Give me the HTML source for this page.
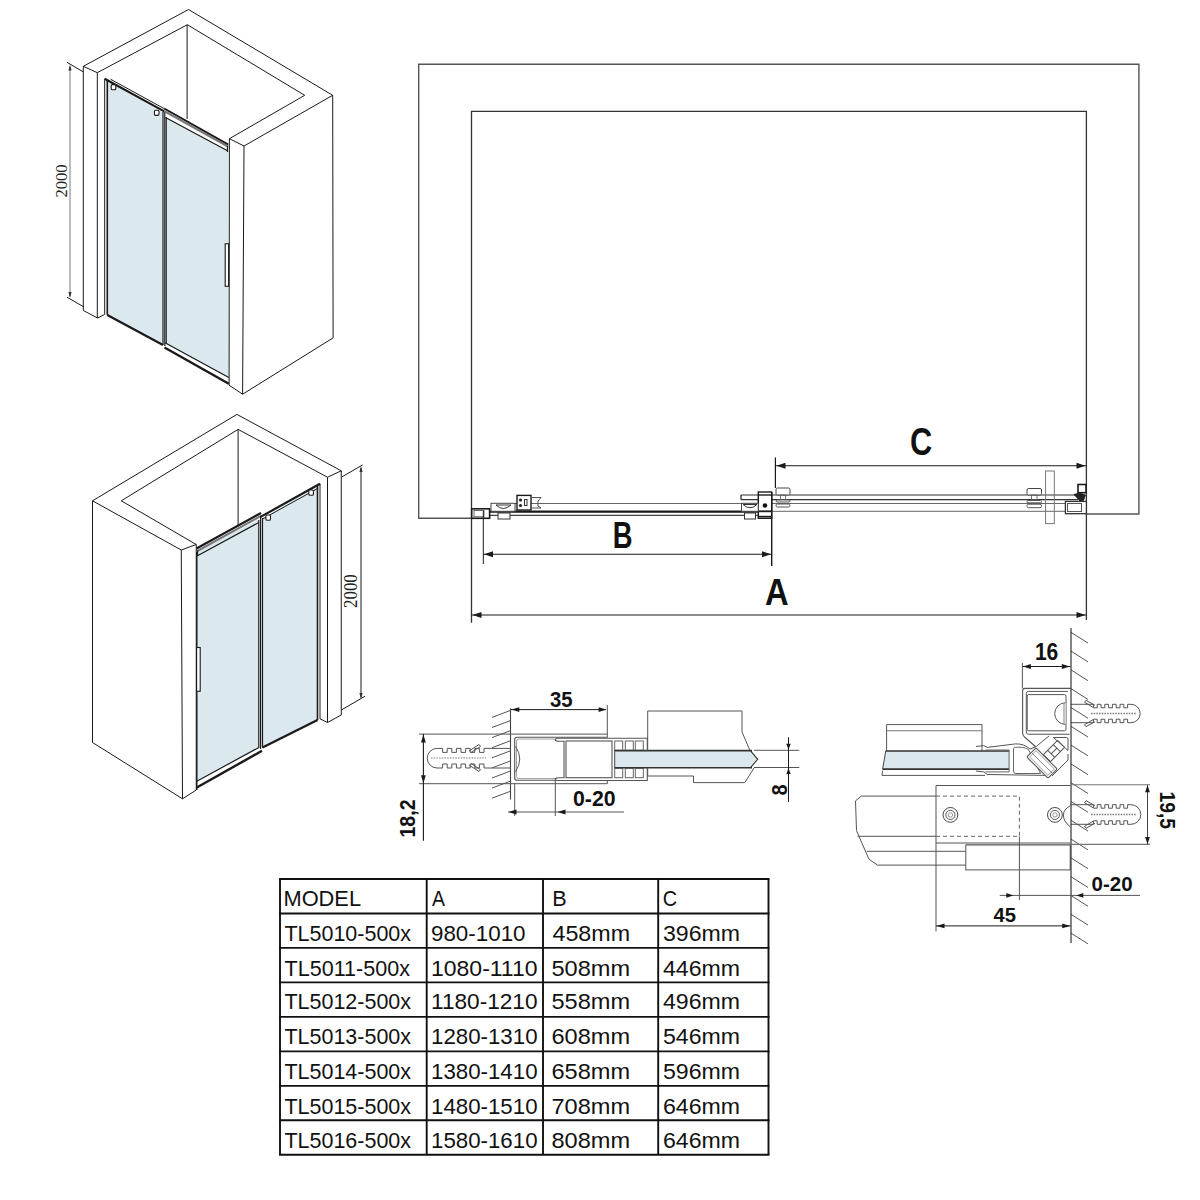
<!DOCTYPE html><html><head><meta charset="utf-8"><style>html,body{margin:0;padding:0;background:#fff;width:1200px;height:1200px;overflow:hidden}svg{display:block}</style></head><body>
<svg width="1200" height="1200" viewBox="0 0 1200 1200">
<rect width="1200" height="1200" fill="#fff"/>
<g stroke-linejoin="miter" stroke-linecap="butt">
<path d="M107.4 81 L163 112.6 L163 345 L107.4 315 Z" stroke="none" stroke-width="0" fill="#dbe8ed" />
<path d="M166 117.5 L228.3 150.8 L228.8 378 L166 344 Z" stroke="none" stroke-width="0" fill="#dbe8ed" />
<path d="M83.3 66.3 L188.5 9.5 L332.7 95.3 L244 146 L229.4 138.7 L304.7 95.3 L187.3 24.7 L97.3 72.7 Z" stroke="#1a1a1a" stroke-width="1.0" fill="none" />
<line x1="83.3" y1="66.3" x2="83.3" y2="310.5" stroke="#1a1a1a" stroke-width="1.0" />
<line x1="97.3" y1="72.7" x2="97.3" y2="318" stroke="#1a1a1a" stroke-width="1.0" />
<path d="M83.3 310.5 L97.5 318 L104.5 314.5" stroke="#1a1a1a" stroke-width="1.0" fill="none" />
<line x1="187.1" y1="24.7" x2="187.1" y2="119" stroke="#1a1a1a" stroke-width="1.0" />
<line x1="229.4" y1="138.7" x2="229.1" y2="385" stroke="#1a1a1a" stroke-width="1.0" />
<line x1="244" y1="146" x2="242.6" y2="394.2" stroke="#1a1a1a" stroke-width="1.0" />
<line x1="332.7" y1="95.3" x2="333.1" y2="337.9" stroke="#1a1a1a" stroke-width="1.0" />
<path d="M228.8 385 L242.6 394.2 L333.1 337.9" stroke="#1a1a1a" stroke-width="1.0" fill="none" />
<line x1="104.7" y1="78.7" x2="104.7" y2="314.5" stroke="#1a1a1a" stroke-width="1.0" />
<line x1="107.3" y1="80" x2="107.3" y2="315" stroke="#1a1a1a" stroke-width="1.6" />
<path d="M104.7 78.7 L164.2 111.4" stroke="#1a1a1a" stroke-width="2.2" fill="none" />
<path d="M110.7 79.3 L164.5 108.8" stroke="#1a1a1a" stroke-width="1" fill="none" />
<line x1="163" y1="112" x2="163" y2="345" stroke="#1a1a1a" stroke-width="1.2" />
<line x1="164.8" y1="111.5" x2="164.8" y2="346" stroke="#1a1a1a" stroke-width="1.2" />
<path d="M164.2 108.5 L228.3 144.7" stroke="#1a1a1a" stroke-width="2.0" fill="none" />
<path d="M164.6 110 L228.3 145.6 L228.3 148 L165 112.7 Z" stroke="none" stroke-width="0" fill="#777" />
<path d="M165.5 117.5 L227.5 150.8" stroke="#1a1a1a" stroke-width="1.2" fill="none" />
<line x1="166.2" y1="117" x2="166.2" y2="344" stroke="#1a1a1a" stroke-width="1.2" />
<line x1="227.5" y1="146" x2="227.5" y2="152" stroke="#1a1a1a" stroke-width="1.2" />
<path d="M107.3 315 L163 345" stroke="#1a1a1a" stroke-width="2.2" fill="none" />
<path d="M165.5 343 L228.8 377.5" stroke="#1a1a1a" stroke-width="1.2" fill="none" />
<path d="M164.5 347.5 L228.8 383.8" stroke="#1a1a1a" stroke-width="2.4" fill="none" />
<rect x="225.2" y="243.8" width="3.4" height="42.5" stroke="#1a1a1a" stroke-width="1.1" fill="#fff" />
<rect x="111.2" y="84.6" width="4.6" height="5.2" stroke="#1a1a1a" stroke-width="1.1" fill="#fff" rx="1.3"/>
<rect x="154.4" y="110.2" width="4.6" height="5.2" stroke="#1a1a1a" stroke-width="1.1" fill="#fff" rx="1.3"/>
<line x1="70" y1="66.7" x2="70" y2="296.5" stroke="#888" stroke-width="1.1" />
<path d="M70.00 64.50 L71.60 70.50 L68.40 70.50 Z" fill="#333"/>
<path d="M70.00 298.00 L68.40 292.00 L71.60 292.00 Z" fill="#333"/>
<line x1="67" y1="62.3" x2="83" y2="71.7" stroke="#1a1a1a" stroke-width="1" />
<line x1="67" y1="297.2" x2="84" y2="307" stroke="#1a1a1a" stroke-width="1" />
<text transform="translate(61.50 181.00) rotate(-90)" x="0" y="5.80" font-family="Liberation Serif" font-size="16.86" font-weight="normal" text-anchor="middle" fill="#222" textLength="33.06" lengthAdjust="spacingAndGlyphs">2000</text>
</g>
<g>
<path d="M196.8 552 L258.8 519 L258.8 747.5 L196.8 781.2 Z" stroke="none" stroke-width="0" fill="#dbe8ed" />
<path d="M262.5 518 L317.5 486 L317.5 720 L262.5 747.5 Z" stroke="none" stroke-width="0" fill="#dbe8ed" />
<path d="M92.5 500.8 L236.9 414.4 L341.25 470.8 L327.5 477.2 L238.1 429.4 L121.25 500.8 L196.25 544.5 L181.25 550 Z" stroke="#1a1a1a" stroke-width="1.0" fill="none" />
<line x1="238.1" y1="429.4" x2="238.1" y2="525" stroke="#1a1a1a" stroke-width="1.0" />
<line x1="92.5" y1="500.8" x2="92.5" y2="742.5" stroke="#1a1a1a" stroke-width="1.0" />
<line x1="181.25" y1="550" x2="182.5" y2="798.8" stroke="#1a1a1a" stroke-width="1.0" />
<line x1="196.25" y1="544.5" x2="196.25" y2="790" stroke="#1a1a1a" stroke-width="1.0" />
<path d="M92.5 742.5 L182.5 798.8 L196.25 790" stroke="#1a1a1a" stroke-width="1.0" fill="none" />
<line x1="327.5" y1="477.2" x2="327.5" y2="722.5" stroke="#1a1a1a" stroke-width="1.0" />
<line x1="341.25" y1="470.8" x2="341.25" y2="715" stroke="#1a1a1a" stroke-width="1.0" />
<path d="M320 718.8 L327.5 722.5 L341.25 715" stroke="#1a1a1a" stroke-width="1.0" fill="none" />
<line x1="320" y1="483.75" x2="320" y2="718.8" stroke="#1a1a1a" stroke-width="1.0" />
<path d="M196.5 548.5 L261 513" stroke="#1a1a1a" stroke-width="2.2" fill="none" />
<path d="M196.5 550.2 L260.8 514.8 L260.5 517.3 L196.5 552.7 Z" stroke="none" stroke-width="0" fill="#777" />
<path d="M197 556 L258.8 522.5" stroke="#1a1a1a" stroke-width="1.2" fill="none" />
<line x1="197.5" y1="550" x2="197.5" y2="556" stroke="#1a1a1a" stroke-width="1.2" />
<line x1="196.8" y1="552" x2="196.8" y2="790" stroke="#1a1a1a" stroke-width="1.4" />
<line x1="258.8" y1="520" x2="258.8" y2="748" stroke="#1a1a1a" stroke-width="1.2" />
<line x1="260.6" y1="516" x2="260.6" y2="749" stroke="#1a1a1a" stroke-width="1.2" />
<path d="M260.6 516.9 L320 483.75" stroke="#1a1a1a" stroke-width="2.2" fill="none" />
<path d="M262.5 519 L317.5 488.5" stroke="#1a1a1a" stroke-width="1.0" fill="none" />
<line x1="262.5" y1="518" x2="262.5" y2="747.5" stroke="#1a1a1a" stroke-width="1.2" />
<line x1="317.5" y1="486" x2="317.5" y2="720" stroke="#1a1a1a" stroke-width="1.6" />
<path d="M196.8 781.2 L258.8 747.5" stroke="#1a1a1a" stroke-width="1.2" fill="none" />
<path d="M196.8 787.5 L262 750.8" stroke="#1a1a1a" stroke-width="2.4" fill="none" />
<path d="M262.5 747.5 L317.5 720" stroke="#1a1a1a" stroke-width="2.2" fill="none" />
<rect x="196.6" y="647.5" width="3.6" height="43.8" stroke="#1a1a1a" stroke-width="1.1" fill="#fff" />
<rect x="265.9" y="515.0" width="4.6" height="5.2" stroke="#1a1a1a" stroke-width="1.1" fill="#fff" rx="1.3"/>
<rect x="308.8" y="490.0" width="4.6" height="5.2" stroke="#1a1a1a" stroke-width="1.1" fill="#fff" rx="1.3"/>
<line x1="361" y1="468" x2="361" y2="697.5" stroke="#1a1a1a" stroke-width="1.0" />
<path d="M361.00 466.00 L362.60 472.00 L359.40 472.00 Z" fill="#333"/>
<path d="M361.00 699.00 L359.40 693.00 L362.60 693.00 Z" fill="#333"/>
<line x1="341.9" y1="476.9" x2="362.5" y2="465" stroke="#1a1a1a" stroke-width="1" />
<line x1="341.25" y1="710" x2="365" y2="696.25" stroke="#1a1a1a" stroke-width="1" />
<text transform="translate(351.38 591.12) rotate(-90)" x="0" y="5.88" font-family="Liberation Serif" font-size="17.98" font-weight="normal" text-anchor="middle" fill="#222" textLength="33.88" lengthAdjust="spacingAndGlyphs">2000</text>
</g>
<g>
<path d="M471.5 518.3 L418.7 518.3 L418.7 64.2 L1138.9 64.2 L1138.9 514 L1086.4 514" stroke="#555" stroke-width="1.4" fill="none" />
<path d="M471.5 622.7 L471.5 111.3 L1086.4 111.3 L1086.4 620" stroke="#333" stroke-width="1.3" fill="none" />
<line x1="489.6" y1="511.7" x2="771.7" y2="511.7" stroke="#1a1a1a" stroke-width="2.2" />
<line x1="489.6" y1="515.4" x2="771.7" y2="515.4" stroke="#444" stroke-width="1.2" />
<line x1="515" y1="503.5" x2="1065" y2="503.5" stroke="#666" stroke-width="1.0" />
<line x1="771.7" y1="511.3" x2="1065" y2="511.3" stroke="#666" stroke-width="1.0" />
<line x1="741" y1="495" x2="1078" y2="495" stroke="#333" stroke-width="1.1" />
<line x1="741" y1="499.6" x2="1078" y2="499.6" stroke="#333" stroke-width="1.1" />
<path d="M741 495 L741 499.6" stroke="#1a1a1a" stroke-width="1.2" fill="none" />
<rect x="471.7" y="508.8" width="17.9" height="9.5" stroke="#1a1a1a" stroke-width="1.6" fill="#fff" />
<rect x="474" y="510.5" width="10" height="6.3" stroke="#444" stroke-width="0.8" fill="none" />
<rect x="491" y="503.3" width="24" height="8" stroke="#444" stroke-width="1" fill="#fff" />
<path d="M496 505 Q503 512 511 505 Z" stroke="#333" stroke-width="1" fill="#fff" />
<rect x="498" y="513" width="12" height="6" stroke="#333" stroke-width="1" fill="#fff" />
<rect x="517" y="495.4" width="14" height="14.6" stroke="#1a1a1a" stroke-width="1.4" fill="#fff" />
<circle cx="520.5" cy="500" r="1.6" fill="#222"/><circle cx="520.5" cy="505.5" r="1.6" fill="#222"/>
<rect x="524.5" y="499.5" width="2.5" height="6" stroke="#333" stroke-width="1" fill="none" />
<path d="M531 497.5 L541 497.5 L538 501 L538 506 L541 508 L531 508" stroke="#555" stroke-width="1" fill="none" />
<rect x="758.3" y="492" width="13.4" height="26.3" stroke="#1a1a1a" stroke-width="1.4" fill="#fff" />
<line x1="758.3" y1="495" x2="771.7" y2="495" stroke="#1a1a1a" stroke-width="1.4" />
<line x1="758.3" y1="511.3" x2="771.7" y2="511.3" stroke="#1a1a1a" stroke-width="1.8" />
<line x1="758.3" y1="516.6" x2="771.7" y2="516.6" stroke="#1a1a1a" stroke-width="1.6" />
<circle cx="765" cy="505.5" r="2.3" fill="#111"/>
<rect x="741.5" y="503.3" width="16.8" height="8" stroke="#444" stroke-width="1" fill="#fff" />
<path d="M743 504.5 Q750 511 757 504.5 Z" stroke="#333" stroke-width="1" fill="#fff" />
<rect x="744.5" y="513" width="11" height="6" stroke="#333" stroke-width="1" fill="#fff" />
<rect x="776" y="488" width="14" height="7" stroke="#444" stroke-width="1.0" fill="#fff" rx="1.5"/>
<rect x="780.5" y="495" width="5" height="5" stroke="#666" stroke-width="0.9" fill="none" />
<rect x="776" y="500" width="14" height="2" stroke="#555" stroke-width="1" fill="#fff" rx="1"/>
<rect x="776" y="504" width="14" height="3" stroke="#555" stroke-width="1" fill="#fff" rx="1.5"/>
<line x1="775.4" y1="457.5" x2="775.4" y2="488" stroke="#1a1a1a" stroke-width="1.2" />
<rect x="1027" y="488.5" width="14.5" height="6.5" stroke="#444" stroke-width="1.0" fill="#fff" rx="1.5"/>
<rect x="1031.5" y="495" width="5.5" height="5" stroke="#666" stroke-width="0.9" fill="none" />
<rect x="1027" y="500.5" width="14.5" height="2.3" stroke="#555" stroke-width="1" fill="#fff" rx="1"/>
<rect x="1027" y="504.2" width="14.5" height="3.5" stroke="#555" stroke-width="1" fill="#fff" rx="1.5"/>
<rect x="1045.6" y="471" width="8.7" height="52.6" stroke="#777" stroke-width="1.0" fill="none" />
<rect x="1065.4" y="501.4" width="21" height="12.3" stroke="#333" stroke-width="1.3" fill="#fff" />
<rect x="1067.5" y="503.5" width="14" height="8" stroke="#555" stroke-width="1" fill="none" />
<rect x="1078" y="484.5" width="8" height="8.2" stroke="#1a1a1a" stroke-width="1.6" fill="#fff" />
<path d="M1074 494.5 L1079 493 L1085.5 495 L1083.5 500.5 L1080 501 Z" stroke="#1a1a1a" stroke-width="0.8" fill="#222" />
<line x1="483.3" y1="511" x2="483.3" y2="564" stroke="#1a1a1a" stroke-width="1" />
<line x1="771.7" y1="492" x2="771.7" y2="566" stroke="#1a1a1a" stroke-width="1.4" />
<line x1="483.3" y1="554.3" x2="771.7" y2="554.3" stroke="#1a1a1a" stroke-width="1.1" />
<path d="M484.00 554.30 L493.00 551.30 L493.00 557.30 Z" fill="#1a1a1a"/>
<path d="M771.00 554.30 L762.00 557.30 L762.00 551.30 Z" fill="#1a1a1a"/>
<line x1="471.5" y1="615" x2="1086.4" y2="615" stroke="#1a1a1a" stroke-width="1.1" />
<path d="M472.50 615.00 L481.50 612.00 L481.50 618.00 Z" fill="#1a1a1a"/>
<path d="M1085.50 615.00 L1076.50 618.00 L1076.50 612.00 Z" fill="#1a1a1a"/>
<line x1="775.4" y1="465.8" x2="1086.4" y2="465.8" stroke="#1a1a1a" stroke-width="1.1" />
<path d="M776.50 465.80 L785.50 462.80 L785.50 468.80 Z" fill="#1a1a1a"/>
<path d="M1085.50 465.80 L1076.50 468.80 L1076.50 462.80 Z" fill="#1a1a1a"/>
<text transform="translate(622.63 535.50)" x="0" y="12.90" font-family="Liberation Sans" font-size="36.24" font-weight="bold" text-anchor="middle" fill="#111" textLength="19.78" lengthAdjust="spacingAndGlyphs">B</text>
<text transform="translate(776.75 591.75)" x="0" y="13.05" font-family="Liberation Sans" font-size="36.81" font-weight="bold" text-anchor="middle" fill="#111" textLength="23.65" lengthAdjust="spacingAndGlyphs">A</text>
<text transform="translate(921.00 441.25)" x="0" y="13.35" font-family="Liberation Sans" font-size="38.24" font-weight="bold" text-anchor="middle" fill="#111" textLength="22.22" lengthAdjust="spacingAndGlyphs">C</text>
</g>
<g>
<line x1="492" y1="717.4" x2="510.3" y2="710.5" stroke="#555" stroke-width="1" />
<line x1="492" y1="727.5" x2="510.3" y2="720.6" stroke="#555" stroke-width="1" />
<line x1="492" y1="737.6" x2="510.3" y2="730.7" stroke="#555" stroke-width="1" />
<line x1="492" y1="747.7" x2="510.3" y2="740.8" stroke="#555" stroke-width="1" />
<line x1="492" y1="757.8" x2="510.3" y2="750.9" stroke="#555" stroke-width="1" />
<line x1="492" y1="767.9" x2="510.3" y2="761.0" stroke="#555" stroke-width="1" />
<line x1="492" y1="778.0" x2="510.3" y2="771.1" stroke="#555" stroke-width="1" />
<line x1="492" y1="788.1" x2="510.3" y2="781.2" stroke="#555" stroke-width="1" />
<line x1="492" y1="798.2" x2="510.3" y2="791.3" stroke="#555" stroke-width="1" />
<line x1="510.5" y1="708.3" x2="510.5" y2="799.5" stroke="#444" stroke-width="1.1" />
<line x1="419" y1="734.1" x2="607.3" y2="734.1" stroke="#555" stroke-width="1" />
<line x1="419" y1="783.7" x2="607.3" y2="783.7" stroke="#555" stroke-width="1" />
<line x1="607.3" y1="705" x2="607.3" y2="783.7" stroke="#555" stroke-width="1" />
<line x1="511" y1="709.6" x2="606" y2="709.6" stroke="#1a1a1a" stroke-width="1" />
<path d="M511.30 709.60 L519.30 707.20 L519.30 712.00 Z" fill="#1a1a1a"/>
<path d="M606.60 709.60 L598.60 712.00 L598.60 707.20 Z" fill="#1a1a1a"/>
<text transform="translate(561.25 698.50)" x="0" y="8.00" font-family="Liberation Sans" font-size="22.40" font-weight="bold" text-anchor="middle" fill="#111" textLength="22.59" lengthAdjust="spacingAndGlyphs">35</text>
<line x1="423.4" y1="734.1" x2="423.4" y2="840.7" stroke="#1a1a1a" stroke-width="1.1" />
<path d="M423.40 734.60 L425.80 742.60 L421.00 742.60 Z" fill="#1a1a1a"/>
<path d="M423.40 783.30 L421.00 775.30 L425.80 775.30 Z" fill="#1a1a1a"/>
<text transform="translate(405.50 818.50) rotate(-90)" x="0" y="9.20" font-family="Liberation Sans" font-size="21.70" font-weight="bold" text-anchor="middle" fill="#111" textLength="38.07" lengthAdjust="spacingAndGlyphs">18,2</text>
<path d="M510.4 748.4 L484 748.4 L484.0 748.4 L484.0 752.4 L479.4 752.4 L479.4 748.4 L474.8 748.4 L474.8 752.4 L470.2 752.4 L470.2 748.4 L465.6 748.4 L465.6 752.4 L461.0 752.4 L461.0 748.4 L456.4 748.4 L456.4 752.4 L451.8 752.4 L451.8 748.4 L447.2 748.4 L447.2 752.4 L442.6 752.4 L442.6 748.4 L437 748.4 A9.8 9.8 0 0 0 437 768  L442.6 768 L442.6 764 L447.2 764 L447.2 768 L451.8 768 L451.8 764 L456.4 764 L456.4 768 L461.0 768 L461.0 764 L465.6 764 L465.6 768 L470.2 768 L470.2 764 L474.8 764 L474.8 768 L479.4 768 L479.4 764 L484.0 764 L484.0 768 L510.4 768" stroke="#555" stroke-width="1" fill="none" />
<line x1="431" y1="758" x2="486" y2="758" stroke="#777" stroke-width="1.2" stroke-dasharray="1.5 1.2"/>
<path d="M469 751 L479 744.5 L480.5 746.5 L471 752.5 M469 765 L479 771.5 L480.5 769.5 L471 763.5" stroke="#555" stroke-width="1" fill="none" />
<path d="M607.3 737.3 L517 737.3 Q514.7 737.3 514.7 739.6 L514.7 778 Q514.7 780.3 517 780.3 L607.3 780.3" stroke="#555" stroke-width="1.1" fill="#fff" />
<path d="M607 739 L518.5 739 Q516.5 739 516.5 741 L516.5 776.5 Q516.5 778.6 518.5 778.6 L607 778.6" stroke="#888" stroke-width="0.8" fill="none" />
<path d="M515.5 746.3 Q524 759 515.5 771.7" stroke="#555" stroke-width="1" fill="none" />
<path d="M647.3 738.3 L558 738.3 Q555.3 738.3 555.3 740.3 L557.5 741.3 L564 741.3 L564 777.7 L557.5 777.7 L555.3 778.7 Q555.3 780.5 558 780.5 L647.3 780.5 Z" stroke="#555" stroke-width="1.1" fill="#fff" />
<rect x="566" y="741" width="46" height="36.7" stroke="#555" stroke-width="1.1" fill="#fff" />
<rect x="614.7" y="741" width="8" height="9.3" stroke="#666" stroke-width="1" fill="#fff" />
<rect x="614.7" y="768.3" width="8" height="9.4" stroke="#666" stroke-width="1" fill="#fff" />
<rect x="625.3" y="741" width="8" height="9.3" stroke="#666" stroke-width="1" fill="#fff" />
<rect x="625.3" y="768.3" width="8" height="9.4" stroke="#666" stroke-width="1" fill="#fff" />
<rect x="635.3" y="741" width="8" height="9.3" stroke="#666" stroke-width="1" fill="#fff" />
<rect x="635.3" y="768.3" width="8" height="9.4" stroke="#666" stroke-width="1" fill="#fff" />
<path d="M614.7 750.5 L750.3 750.5 L757.7 759.3 L750.3 768 L614.7 768 Z" stroke="none" stroke-width="0" fill="#dbe8ed" />
<line x1="614.7" y1="750.6" x2="752" y2="750.6" stroke="#333" stroke-width="1.6" />
<line x1="614.7" y1="767.8" x2="752" y2="767.8" stroke="#333" stroke-width="1.6" />
<line x1="614.7" y1="750.5" x2="614.7" y2="768" stroke="#444" stroke-width="1" />
<path d="M750.3 750.6 L757.7 759.3 L750.3 767.8" stroke="#333" stroke-width="1.1" fill="none" />
<path d="M647.7 750.5 L647.7 711 L742 711 L742 732 L750 750.5" stroke="#555" stroke-width="1" fill="none" />
<path d="M647.7 768 L647.7 776 L693.5 776 L693.5 782.6 L744.8 782.6 L754 768" stroke="#555" stroke-width="1" fill="none" />
<line x1="754" y1="750.3" x2="799.3" y2="750.3" stroke="#555" stroke-width="1" />
<line x1="754" y1="767.5" x2="799.3" y2="767.5" stroke="#555" stroke-width="1" />
<line x1="788.5" y1="737.3" x2="788.5" y2="802" stroke="#1a1a1a" stroke-width="1" />
<path d="M788.50 749.80 L786.30 743.80 L790.70 743.80 Z" fill="#1a1a1a"/>
<path d="M788.50 768.00 L790.70 774.00 L786.30 774.00 Z" fill="#1a1a1a"/>
<text transform="translate(779.00 790.00) rotate(-90)" x="0" y="8.00" font-family="Liberation Sans" font-size="22.40" font-weight="bold" text-anchor="middle" fill="#111" textLength="11.11" lengthAdjust="spacingAndGlyphs">8</text>
<line x1="514.7" y1="783.7" x2="514.7" y2="816" stroke="#555" stroke-width="1" />
<line x1="555.3" y1="780.5" x2="555.3" y2="816" stroke="#555" stroke-width="1" />
<line x1="508" y1="812" x2="624" y2="812" stroke="#555" stroke-width="1" />
<path d="M508.50 812.00 L516.50 809.60 L516.50 814.40 Z" fill="#1a1a1a"/>
<path d="M557.50 812.00 L565.50 809.60 L565.50 814.40 Z" fill="#1a1a1a"/>
<text transform="translate(594.25 798.00)" x="0" y="8.00" font-family="Liberation Sans" font-size="22.40" font-weight="bold" text-anchor="middle" fill="#111" textLength="42.55" lengthAdjust="spacingAndGlyphs">0-20</text>
</g>
<g>
<line x1="1071" y1="632.3" x2="1088" y2="643.1" stroke="#555" stroke-width="1" />
<line x1="1071" y1="651.1" x2="1088" y2="661.9" stroke="#555" stroke-width="1" />
<line x1="1071" y1="669.9" x2="1088" y2="680.7" stroke="#555" stroke-width="1" />
<line x1="1071" y1="688.7" x2="1088" y2="699.5" stroke="#555" stroke-width="1" />
<line x1="1071" y1="707.5" x2="1088" y2="718.3" stroke="#555" stroke-width="1" />
<line x1="1071" y1="726.3" x2="1088" y2="737.1" stroke="#555" stroke-width="1" />
<line x1="1071" y1="745.1" x2="1088" y2="755.9" stroke="#555" stroke-width="1" />
<line x1="1071" y1="763.9" x2="1088" y2="774.7" stroke="#555" stroke-width="1" />
<line x1="1071" y1="782.7" x2="1088" y2="793.5" stroke="#555" stroke-width="1" />
<line x1="1071" y1="801.5" x2="1088" y2="812.3" stroke="#555" stroke-width="1" />
<line x1="1071" y1="820.3" x2="1088" y2="831.1" stroke="#555" stroke-width="1" />
<line x1="1071" y1="839.1" x2="1088" y2="849.9" stroke="#555" stroke-width="1" />
<line x1="1071" y1="857.9" x2="1088" y2="868.7" stroke="#555" stroke-width="1" />
<line x1="1071" y1="876.7" x2="1088" y2="887.5" stroke="#555" stroke-width="1" />
<line x1="1071" y1="895.5" x2="1088" y2="906.3" stroke="#555" stroke-width="1" />
<line x1="1071" y1="914.3" x2="1088" y2="925.1" stroke="#555" stroke-width="1" />
<line x1="1071" y1="933.1" x2="1088" y2="943.9" stroke="#555" stroke-width="1" />
<line x1="1022.4" y1="666.5" x2="1070.3" y2="666.5" stroke="#1a1a1a" stroke-width="1" />
<path d="M1022.90 666.50 L1030.90 664.10 L1030.90 668.90 Z" fill="#1a1a1a"/>
<path d="M1069.80 666.50 L1061.80 668.90 L1061.80 664.10 Z" fill="#1a1a1a"/>
<line x1="1022.4" y1="663" x2="1022.4" y2="688.4" stroke="#555" stroke-width="1" />
<text transform="translate(1046.62 651.62)" x="0" y="7.88" font-family="Liberation Sans" font-size="23.46" font-weight="bold" text-anchor="middle" fill="#111" textLength="23.39" lengthAdjust="spacingAndGlyphs">16</text>
<path d="M1070.7 688.4 L1025 688.4 Q1022.6 688.4 1022.6 690.8 L1022.6 733 Q1022.6 735.5 1024.5 737 L1036 747" stroke="#555" stroke-width="1.1" fill="none" />
<path d="M1068 691.4 L1028.5 691.4 Q1026.3 691.4 1026.3 693.6 L1026.3 732 Q1026.3 734.25 1028.5 734.25 L1069.5 734.25" stroke="#555" stroke-width="1" fill="none" />
<rect x="1027.2" y="694.6" width="38.8" height="36.2" stroke="#555" stroke-width="1" fill="none" rx="1.5"/>
<path d="M1065.5 702.8 A10.8 10.8 0 0 0 1065.5 724.4" stroke="#555" stroke-width="1" fill="#fff" />
<line x1="1064" y1="703" x2="1064" y2="724" stroke="#999" stroke-width="1.2" />
<path d="M1070.7 704.3 L1093.4 704.3 L1093.4 704.3 L1093.4 707.8 L1097.2 707.8 L1097.2 704.3 L1101.0 704.3 L1101.0 707.8 L1104.8 707.8 L1104.8 704.3 L1108.6 704.3 L1108.6 707.8 L1112.4 707.8 L1112.4 704.3 L1116.2 704.3 L1116.2 707.8 L1120.0 707.8 L1120.0 704.3 L1123.8 704.3 L1123.8 707.8 L1127.6 707.8 L1127.6 704.3 L1131 704.3 A9.2 9.2 0 0 1 1131 722.7 L1127.6 722.7 L1127.6 719.2 L1123.8 719.2 L1123.8 722.7 L1120.0 722.7 L1120.0 719.2 L1116.2 719.2 L1116.2 722.7 L1112.4 722.7 L1112.4 719.2 L1108.6 719.2 L1108.6 722.7 L1104.8 722.7 L1104.8 719.2 L1101.0 719.2 L1101.0 722.7 L1097.2 722.7 L1097.2 719.2 L1093.4 719.2 L1093.4 722.7 L1070.7 722.7" stroke="#555" stroke-width="1" fill="none" />
<line x1="1091" y1="713.5" x2="1137" y2="713.5" stroke="#777" stroke-width="1.3" stroke-dasharray="1.5 1.2"/>
<path d="M1095 705.3 L1086 700.3 L1084.5 702.3 L1093 707.3 M1095 721.7 L1086 726.7 L1084.5 724.7 L1093 719.7" stroke="#555" stroke-width="1" fill="none" />
<path d="M886.6 750.9 L886.6 724.6 L982 724.6 L982 750.9" stroke="#555" stroke-width="1" fill="#fff" />
<line x1="886.6" y1="730.75" x2="982" y2="730.75" stroke="#777" stroke-width="1.1" />
<path d="M885.75 750.9 L1009.1 750.9 L1009.1 769.25 L882.6 769.25 Z" stroke="none" stroke-width="0" fill="#dbe8ed" />
<line x1="885.75" y1="751" x2="1009.1" y2="751" stroke="#333" stroke-width="1.7" />
<line x1="882.6" y1="769.1" x2="1009.1" y2="769.1" stroke="#333" stroke-width="1.7" />
<line x1="885.75" y1="750.9" x2="882.6" y2="769.25" stroke="#444" stroke-width="1" />
<path d="M882.6 770.6 L882 775.4 L985 775.4" stroke="#555" stroke-width="1" fill="none" />
<path d="M975.9 746.5 L983.75 745.6 L987.25 747.4 L1015.25 743.9 Q1024 743.5 1030.1 749.1 L1036.25 746.5" stroke="#555" stroke-width="1" fill="none" />
<path d="M975.9 771 L983.75 771.9 L987.25 774.5 L1045 775.4 L1052 771" stroke="#555" stroke-width="1" fill="none" />
<path d="M985.5 750 L1009.1 750 L1009.1 771.9 L985.5 771.9" stroke="#666" stroke-width="1" fill="none" />
<path d="M1014.4 747.4 Q1024 746.5 1028.4 749.5 L1040.6 773.5 L1016 773.5 Q1013.5 773.5 1013.5 771 L1013.5 750 Q1013.5 747.4 1014.4 747.4 Z" stroke="#666" stroke-width="1" fill="none" />
<g transform="translate(1042 763) rotate(45)">
<rect x="-15" y="-6.5" width="30" height="13" stroke="#555" stroke-width="1.1" fill="#fff" rx="1.5"/>
<rect x="-13" y="-4.5" width="26" height="9" stroke="#888" stroke-width="0.8" fill="none" />
<line x1="-15" y1="0" x2="15" y2="0" stroke="#777" stroke-width="0.8" />
</g>
<g transform="translate(1054 751) rotate(-45)">
<path d="M-10 -5 L10 -5 M-10 5 L10 5 M-10 -5 L-10 5 M10 -5 L10 5 M-4 -5 L-4 5 M4 -5 L4 5 M-4 0 L4 0" stroke="#555" stroke-width="1" fill="none" />
</g>
<path d="M1053.5 737.5 L1066.5 737.5 Q1068 737.5 1068 739 L1068 750.5 Z" stroke="#555" stroke-width="1" fill="none" />
<path d="M1036.25 746.5 L1044 740 L1049 736 M1068 754 L1068 760 L1052 776" stroke="#555" stroke-width="1" fill="none" />
<path d="M936 843 L936 785.5 L1070.2 785.5" stroke="#555" stroke-width="1" fill="none" />
<line x1="936" y1="843" x2="1070.2" y2="843" stroke="#555" stroke-width="1" />
<line x1="966" y1="845" x2="1070.2" y2="845" stroke="#555" stroke-width="1" />
<path d="M936 796.1 L1019.4 796.1 L1019.4 836.3 L936 836.3" stroke="#666" stroke-width="1" fill="none" stroke-dasharray="4 3"/>
<path d="M936 796.1 L861.3 796.1 L855.5 800.9 L856.5 830.6 L869 859.3 L877.6 865.1 L965.8 865.1" stroke="#555" stroke-width="1" fill="none" />
<line x1="857.5" y1="836.3" x2="936" y2="836.3" stroke="#555" stroke-width="1" />
<line x1="867" y1="851.3" x2="965.8" y2="851.3" stroke="#555" stroke-width="1" />
<rect x="965.8" y="845" width="104.4" height="24.9" stroke="#555" stroke-width="1" fill="#fff" />
<line x1="936" y1="843" x2="936" y2="931.5" stroke="#555" stroke-width="1" />
<circle cx="950.4" cy="814.9" r="7.4" fill="#fff" stroke="#444" stroke-width="1"/>
<circle cx="950.4" cy="814.9" r="4.6" fill="none" stroke="#444" stroke-width="0.9"/>
<circle cx="950.4" cy="814.9" r="2.2" fill="none" stroke="#777" stroke-width="0.8"/>
<circle cx="1054.9" cy="814.9" r="7.4" fill="#fff" stroke="#444" stroke-width="1"/>
<circle cx="1054.9" cy="814.9" r="4.6" fill="none" stroke="#444" stroke-width="0.9"/>
<circle cx="1054.9" cy="814.9" r="2.2" fill="none" stroke="#777" stroke-width="0.8"/>
<path d="M1070.2 805.7 Q1063 810 1063.5 815 Q1063 821 1070.2 826.8" stroke="#555" stroke-width="1" fill="#fff" />
<path d="M1070.7 804.7 L1093.4 804.7 L1093.4 804.7 L1093.4 808.2 L1097.2 808.2 L1097.2 804.7 L1101.0 804.7 L1101.0 808.2 L1104.8 808.2 L1104.8 804.7 L1108.6 804.7 L1108.6 808.2 L1112.4 808.2 L1112.4 804.7 L1116.2 804.7 L1116.2 808.2 L1120.0 808.2 L1120.0 804.7 L1123.8 804.7 L1123.8 808.2 L1127.6 808.2 L1127.6 804.7 L1131 804.7 A9.8 9.8 0 0 1 1131 824.3 L1127.6 824.3 L1127.6 820.8 L1123.8 820.8 L1123.8 824.3 L1120.0 824.3 L1120.0 820.8 L1116.2 820.8 L1116.2 824.3 L1112.4 824.3 L1112.4 820.8 L1108.6 820.8 L1108.6 824.3 L1104.8 824.3 L1104.8 820.8 L1101.0 820.8 L1101.0 824.3 L1097.2 824.3 L1097.2 820.8 L1093.4 820.8 L1093.4 824.3 L1070.7 824.3" stroke="#555" stroke-width="1" fill="none" />
<line x1="1091" y1="814.5" x2="1137" y2="814.5" stroke="#777" stroke-width="1.3" stroke-dasharray="1.5 1.2"/>
<path d="M1095 805.7 L1086 800.7 L1084.5 802.7 L1093 807.7 M1095 823.3 L1086 828.3 L1084.5 826.3 L1093 821.3" stroke="#555" stroke-width="1" fill="none" />
<line x1="1071" y1="628" x2="1071" y2="943" stroke="#333" stroke-width="1.2" />
<line x1="1071" y1="784.7" x2="1150" y2="784.7" stroke="#777" stroke-width="1.1" />
<line x1="1071" y1="844.4" x2="1150" y2="844.4" stroke="#777" stroke-width="1.1" />
<line x1="1147.5" y1="784.7" x2="1147.5" y2="844.4" stroke="#444" stroke-width="1" />
<path d="M1147.50 785.20 L1149.90 792.20 L1145.10 792.20 Z" fill="#1a1a1a"/>
<path d="M1147.50 843.90 L1145.10 836.90 L1149.90 836.90 Z" fill="#1a1a1a"/>
<text transform="translate(1169.50 810.25) rotate(90)" x="0" y="9.20" font-family="Liberation Sans" font-size="21.70" font-weight="bold" text-anchor="middle" fill="#111" textLength="37.56" lengthAdjust="spacingAndGlyphs">19,5</text>
<line x1="1019.4" y1="836.3" x2="1019.4" y2="900" stroke="#555" stroke-width="1" />
<line x1="999.8" y1="895.4" x2="1140" y2="895.4" stroke="#555" stroke-width="1" />
<path d="M1013.30 895.40 L1006.30 897.80 L1006.30 893.00 Z" fill="#1a1a1a"/>
<path d="M1076.30 895.40 L1083.30 893.00 L1083.30 897.80 Z" fill="#1a1a1a"/>
<text transform="translate(1112.00 883.50)" x="0" y="7.10" font-family="Liberation Sans" font-size="20.87" font-weight="bold" text-anchor="middle" fill="#111" textLength="41.07" lengthAdjust="spacingAndGlyphs">0-20</text>
<line x1="936" y1="925.9" x2="1070.5" y2="925.9" stroke="#1a1a1a" stroke-width="1" />
<path d="M936.50 925.90 L944.50 923.50 L944.50 928.30 Z" fill="#1a1a1a"/>
<path d="M1070.20 925.90 L1062.20 928.30 L1062.20 923.50 Z" fill="#1a1a1a"/>
<text transform="translate(1004.75 915.00)" x="0" y="7.40" font-family="Liberation Sans" font-size="20.87" font-weight="bold" text-anchor="middle" fill="#111" textLength="22.53" lengthAdjust="spacingAndGlyphs">45</text>
</g>
<g>
<line x1="279.05" y1="878.95" x2="769.45" y2="878.95" stroke="#111" stroke-width="1.9" />
<line x1="279.05" y1="913.43" x2="769.45" y2="913.43" stroke="#111" stroke-width="1.9" />
<line x1="279.05" y1="947.91" x2="769.45" y2="947.91" stroke="#111" stroke-width="1.9" />
<line x1="279.05" y1="982.39" x2="769.45" y2="982.39" stroke="#111" stroke-width="1.9" />
<line x1="279.05" y1="1016.87" x2="769.45" y2="1016.87" stroke="#111" stroke-width="1.9" />
<line x1="279.05" y1="1051.35" x2="769.45" y2="1051.35" stroke="#111" stroke-width="1.9" />
<line x1="279.05" y1="1085.83" x2="769.45" y2="1085.83" stroke="#111" stroke-width="1.9" />
<line x1="279.05" y1="1120.31" x2="769.45" y2="1120.31" stroke="#111" stroke-width="1.9" />
<line x1="279.05" y1="1154.79" x2="769.45" y2="1154.79" stroke="#111" stroke-width="1.9" />
<line x1="280.0" y1="878.95" x2="280.0" y2="1154.79" stroke="#111" stroke-width="1.9" />
<line x1="426.7" y1="878.95" x2="426.7" y2="1154.79" stroke="#111" stroke-width="1.9" />
<line x1="543.0" y1="878.95" x2="543.0" y2="1154.79" stroke="#111" stroke-width="1.9" />
<line x1="658.2" y1="878.95" x2="658.2" y2="1154.79" stroke="#111" stroke-width="1.9" />
<line x1="768.5" y1="878.95" x2="768.5" y2="1154.79" stroke="#111" stroke-width="1.9" />
<text transform="translate(322.25 898.00)" x="0" y="8.00" font-family="Liberation Sans" font-size="22.40" font-weight="normal" text-anchor="middle" fill="#111" textLength="77.58" lengthAdjust="spacingAndGlyphs">MODEL</text>
<text transform="translate(438.50 898.00)" x="0" y="8.00" font-family="Liberation Sans" font-size="22.40" font-weight="normal" text-anchor="middle" fill="#111" textLength="13.00" lengthAdjust="spacingAndGlyphs">A</text>
<text transform="translate(559.50 898.00)" x="0" y="8.00" font-family="Liberation Sans" font-size="22.40" font-weight="normal" text-anchor="middle" fill="#111" textLength="14.47" lengthAdjust="spacingAndGlyphs">B</text>
<text transform="translate(670.00 898.00)" x="0" y="8.00" font-family="Liberation Sans" font-size="22.40" font-weight="normal" text-anchor="middle" fill="#111" textLength="14.40" lengthAdjust="spacingAndGlyphs">C</text>
<text transform="translate(347.75 932.75)" x="0" y="8.00" font-family="Liberation Sans" font-size="22.40" font-weight="normal" text-anchor="middle" fill="#111" textLength="126.52" lengthAdjust="spacingAndGlyphs">TL5010-500x</text>
<text transform="translate(478.25 932.75)" x="0" y="8.00" font-family="Liberation Sans" font-size="22.40" font-weight="normal" text-anchor="middle" fill="#111" textLength="94.54" lengthAdjust="spacingAndGlyphs">980-1010</text>
<text transform="translate(591.25 932.75)" x="0" y="8.00" font-family="Liberation Sans" font-size="22.40" font-weight="normal" text-anchor="middle" fill="#111" textLength="77.58" lengthAdjust="spacingAndGlyphs">458mm</text>
<text transform="translate(701.50 932.75)" x="0" y="8.00" font-family="Liberation Sans" font-size="22.40" font-weight="normal" text-anchor="middle" fill="#111" textLength="77.05" lengthAdjust="spacingAndGlyphs">396mm</text>
<text transform="translate(347.25 967.50)" x="0" y="8.00" font-family="Liberation Sans" font-size="22.40" font-weight="normal" text-anchor="middle" fill="#111" textLength="125.50" lengthAdjust="spacingAndGlyphs">TL5011-500x</text>
<text transform="translate(484.25 967.50)" x="0" y="8.00" font-family="Liberation Sans" font-size="22.40" font-weight="normal" text-anchor="middle" fill="#111" textLength="106.55" lengthAdjust="spacingAndGlyphs">1080-1110</text>
<text transform="translate(590.75 967.50)" x="0" y="8.00" font-family="Liberation Sans" font-size="22.40" font-weight="normal" text-anchor="middle" fill="#111" textLength="78.61" lengthAdjust="spacingAndGlyphs">508mm</text>
<text transform="translate(701.50 967.50)" x="0" y="8.00" font-family="Liberation Sans" font-size="22.40" font-weight="normal" text-anchor="middle" fill="#111" textLength="77.05" lengthAdjust="spacingAndGlyphs">446mm</text>
<text transform="translate(347.75 1001.25)" x="0" y="8.00" font-family="Liberation Sans" font-size="22.40" font-weight="normal" text-anchor="middle" fill="#111" textLength="126.52" lengthAdjust="spacingAndGlyphs">TL5012-500x</text>
<text transform="translate(484.25 1001.25)" x="0" y="8.00" font-family="Liberation Sans" font-size="22.40" font-weight="normal" text-anchor="middle" fill="#111" textLength="106.55" lengthAdjust="spacingAndGlyphs">1180-1210</text>
<text transform="translate(590.75 1001.25)" x="0" y="8.00" font-family="Liberation Sans" font-size="22.40" font-weight="normal" text-anchor="middle" fill="#111" textLength="78.61" lengthAdjust="spacingAndGlyphs">558mm</text>
<text transform="translate(701.50 1001.25)" x="0" y="8.00" font-family="Liberation Sans" font-size="22.40" font-weight="normal" text-anchor="middle" fill="#111" textLength="77.05" lengthAdjust="spacingAndGlyphs">496mm</text>
<text transform="translate(347.75 1036.00)" x="0" y="8.00" font-family="Liberation Sans" font-size="22.40" font-weight="normal" text-anchor="middle" fill="#111" textLength="126.52" lengthAdjust="spacingAndGlyphs">TL5013-500x</text>
<text transform="translate(484.25 1036.00)" x="0" y="8.00" font-family="Liberation Sans" font-size="22.40" font-weight="normal" text-anchor="middle" fill="#111" textLength="106.55" lengthAdjust="spacingAndGlyphs">1280-1310</text>
<text transform="translate(590.75 1036.00)" x="0" y="8.00" font-family="Liberation Sans" font-size="22.40" font-weight="normal" text-anchor="middle" fill="#111" textLength="78.61" lengthAdjust="spacingAndGlyphs">608mm</text>
<text transform="translate(701.50 1036.00)" x="0" y="8.00" font-family="Liberation Sans" font-size="22.40" font-weight="normal" text-anchor="middle" fill="#111" textLength="77.05" lengthAdjust="spacingAndGlyphs">546mm</text>
<text transform="translate(347.75 1070.75)" x="0" y="8.00" font-family="Liberation Sans" font-size="22.40" font-weight="normal" text-anchor="middle" fill="#111" textLength="126.52" lengthAdjust="spacingAndGlyphs">TL5014-500x</text>
<text transform="translate(484.25 1070.75)" x="0" y="8.00" font-family="Liberation Sans" font-size="22.40" font-weight="normal" text-anchor="middle" fill="#111" textLength="106.55" lengthAdjust="spacingAndGlyphs">1380-1410</text>
<text transform="translate(590.75 1070.75)" x="0" y="8.00" font-family="Liberation Sans" font-size="22.40" font-weight="normal" text-anchor="middle" fill="#111" textLength="78.61" lengthAdjust="spacingAndGlyphs">658mm</text>
<text transform="translate(701.50 1070.75)" x="0" y="8.00" font-family="Liberation Sans" font-size="22.40" font-weight="normal" text-anchor="middle" fill="#111" textLength="77.05" lengthAdjust="spacingAndGlyphs">596mm</text>
<text transform="translate(347.75 1105.50)" x="0" y="8.00" font-family="Liberation Sans" font-size="22.40" font-weight="normal" text-anchor="middle" fill="#111" textLength="126.52" lengthAdjust="spacingAndGlyphs">TL5015-500x</text>
<text transform="translate(484.25 1105.50)" x="0" y="8.00" font-family="Liberation Sans" font-size="22.40" font-weight="normal" text-anchor="middle" fill="#111" textLength="106.55" lengthAdjust="spacingAndGlyphs">1480-1510</text>
<text transform="translate(590.75 1105.50)" x="0" y="8.00" font-family="Liberation Sans" font-size="22.40" font-weight="normal" text-anchor="middle" fill="#111" textLength="78.61" lengthAdjust="spacingAndGlyphs">708mm</text>
<text transform="translate(701.50 1105.50)" x="0" y="8.00" font-family="Liberation Sans" font-size="22.40" font-weight="normal" text-anchor="middle" fill="#111" textLength="77.05" lengthAdjust="spacingAndGlyphs">646mm</text>
<text transform="translate(347.75 1140.25)" x="0" y="8.00" font-family="Liberation Sans" font-size="22.40" font-weight="normal" text-anchor="middle" fill="#111" textLength="126.52" lengthAdjust="spacingAndGlyphs">TL5016-500x</text>
<text transform="translate(484.25 1140.25)" x="0" y="8.00" font-family="Liberation Sans" font-size="22.40" font-weight="normal" text-anchor="middle" fill="#111" textLength="106.55" lengthAdjust="spacingAndGlyphs">1580-1610</text>
<text transform="translate(590.75 1140.25)" x="0" y="8.00" font-family="Liberation Sans" font-size="22.40" font-weight="normal" text-anchor="middle" fill="#111" textLength="78.61" lengthAdjust="spacingAndGlyphs">808mm</text>
<text transform="translate(701.50 1140.25)" x="0" y="8.00" font-family="Liberation Sans" font-size="22.40" font-weight="normal" text-anchor="middle" fill="#111" textLength="77.05" lengthAdjust="spacingAndGlyphs">646mm</text>
</g>
</svg></body></html>
